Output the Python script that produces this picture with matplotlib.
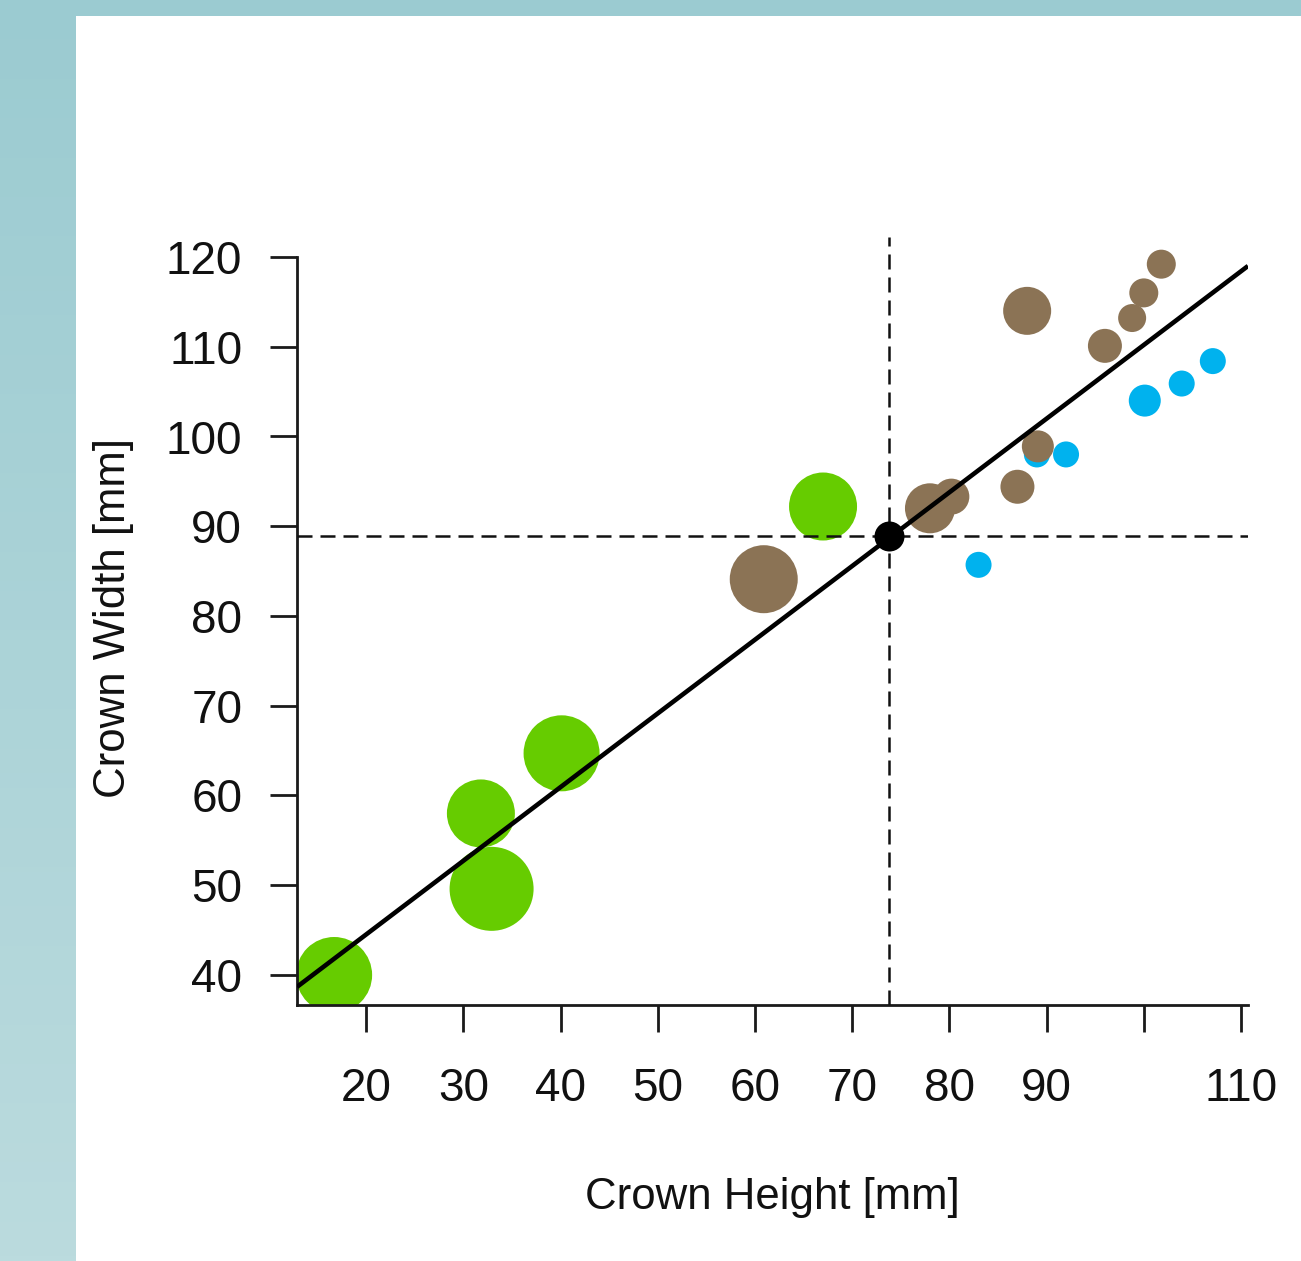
import numpy as np
import matplotlib
matplotlib.use("Agg")
import matplotlib.pyplot as plt
from matplotlib.patches import Rectangle

plt.rcParams['font.family'] = ['Liberation Sans', 'DejaVu Sans']

# ---- data ----
green_x = [16.7, 31.8, 32.9, 40.1, 67.0]
green_y = [40.0, 58.0, 49.6, 64.7, 92.2]
green_r = [38, 34, 42, 38, 34]

blue_x = [83.0, 89.0, 92.0, 100.1, 103.9, 107.1]
blue_y = [85.7, 98.0, 98.0, 104.0, 105.9, 108.4]
blue_r = [13, 13, 13, 16, 13, 13]

brown_x = [60.9, 88.0, 101.8, 100.0, 98.8, 96.0, 89.1, 87.0, 78.0, 80.2]
brown_y = [84.1, 114.0, 119.2, 116.0, 113.2, 110.1, 98.9, 94.4, 92.0, 93.3]
brown_r = [34, 24, 14.5, 14.5, 14, 17, 16, 17, 25, 18]

mean_x, mean_y = 73.75, 88.9
fit_intercept, fit_slope = 28.1, 0.821

x_ticks = [20, 30, 40, 50, 60, 70, 80, 90, 100, 110]
x_labels = ['20', '30', '40', '50', '60', '70', '80', '90', '', '110']
y_ticks = [40, 50, 60, 70, 80, 90, 100, 110, 120]

GREEN = '#66CC00'
BLUE = '#00B2EE'
BROWN = '#8B7355'

W, H = 1301, 1261
fig = plt.figure(figsize=(W / 100, H / 100), dpi=100)
fig.patch.set_facecolor('white')

# background teal gradient frame
bg = fig.add_axes([0, 0, 1, 1])
grad = np.linspace(0, 1, 256).reshape(-1, 1)
c_top = np.array([0x9B, 0xCB, 0xD1]) / 255
c_bot = np.array([0xBB, 0xDB, 0xDE]) / 255
img = c_top[None, None, :] * (1 - grad[:, :, None]) + c_bot[None, None, :] * grad[:, :, None]
bg.imshow(img, extent=[0, W, H, 0], aspect='auto')
bg.add_patch(Rectangle((76, 16), W - 76, H - 16, facecolor='white', edgecolor='none'))
bg.set_xlim(0, W)
bg.set_ylim(H, 0)
bg.axis('off')

# main axes
L, R, T, B = 297, 1248, 237, 1005
ax = fig.add_axes([L / W, 1 - B / H, (R - L) / W, (B - T) / H])
ax.set_facecolor('none')

px_per_x = 9.72
px_per_y = 8.975
xmin = 110 - (1241 - L) / px_per_x
xmax = 110 + (R - 1241) / px_per_x
ymin = 40 - (B - 975) / px_per_y
ymax = 120 + (257 - T) / px_per_y
ax.set_xlim(xmin, xmax)
ax.set_ylim(ymin, ymax)


def sz(r):
    return (2 * np.asarray(r, float) * 0.72) ** 2


ax.scatter(green_x, green_y, s=sz(green_r), c=GREEN, linewidths=0, zorder=2)
ax.scatter(blue_x, blue_y, s=sz(blue_r), c=BLUE, linewidths=0, zorder=2)
ax.scatter(brown_x, brown_y, s=sz(brown_r), c=BROWN, linewidths=0, zorder=2)

xs = np.array([xmin, xmax])
ax.plot(xs, fit_intercept + fit_slope * xs, color='black', lw=3.3, zorder=3,
        solid_capstyle='butt')
ax.axvline(mean_x, color='#111111', lw=1.8, dashes=(6, 3.2), zorder=3)
ax.axhline(mean_y, color='#111111', lw=1.8, dashes=(6, 3.2), zorder=3)
ax.scatter([mean_x], [mean_y], s=sz(15), c='black', linewidths=0, zorder=4)

for s in ['top', 'right']:
    ax.spines[s].set_visible(False)
for s in ['left', 'bottom']:
    ax.spines[s].set_linewidth(2.0)
    ax.spines[s].set_color('#1a1a1a')
ax.spines['left'].set_bounds(ymin, 120)

ax.set_xticks(x_ticks)
ax.set_xticklabels(x_labels)
ax.set_yticks(y_ticks)
ax.tick_params(axis='both', length=19.5, width=2.0, color='#1a1a1a',
               labelsize=33, labelcolor='#111111')
ax.tick_params(axis='x', pad=25)
ax.tick_params(axis='y', pad=20)

ax.set_xlabel('Crown Height [mm]', fontsize=31.5, color='#111111')
ax.set_ylabel('Crown Width [mm]', fontsize=31.5, color='#111111')
ax.xaxis.label.set_va('center')
ax.yaxis.label.set_va('center')
ax.xaxis.set_label_coords(0.5, -(1197 - B) / (B - T))
ax.yaxis.set_label_coords(-(L - 113) / (R - L), 0.504)

fig.savefig('out.png', dpi=100, facecolor=fig.get_facecolor())
